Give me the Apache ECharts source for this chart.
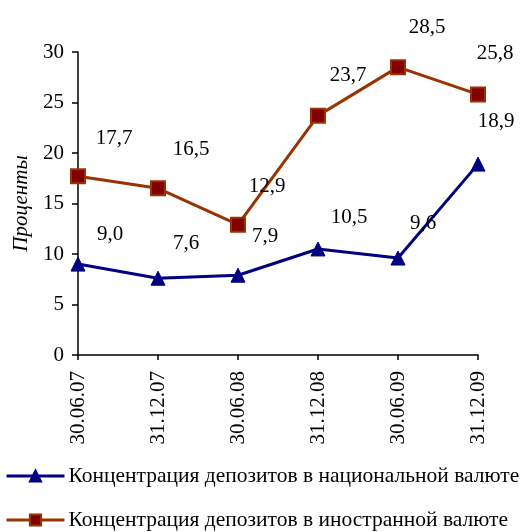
<!DOCTYPE html>
<html>
<head>
<meta charset="utf-8">
<script src="https://cdn.jsdelivr.net/npm/echarts@6/dist/echarts.min.js"></script>
<style>
  html, body { margin: 0; padding: 0; background: #fff; }
  #chart { width: 525px; height: 532px; }
</style>
</head>
<body>
<div id="chart"></div>
<script>
// Dates of the reporting periods
const periods = ['30.06.07', '31.12.07', '30.06.08', '31.12.08', '30.06.09', '31.12.09'];

// Deposit concentration, percent
const nationalCurrency = [9.0, 7.6, 7.9, 10.5, 9.6, 18.9];
const foreignCurrency = [17.7, 16.5, 12.9, 23.7, 28.5, 25.8];

const seriesNames = [
  'Концентрация депозитов в национальной валюте',
  'Концентрация депозитов в иностранной валюте'
];

// Value axis ticks
const yTicks = [0, 5, 10, 15, 20, 25, 30];

// Where each value label sits relative to its point
const nationalLabelOffsets = [[32, -30], [28, -35], [27, -39], [31, -31], [25, -35], [18, -43]];
const foreignLabelOffsets = [[36, -38], [33, -39], [29, -38], [30, -40], [29, -40], [17, -41]];

const FONT = '"Liberation Serif", "Times New Roman", serif';
const fmt = v => v.toFixed(1).replace('.', ',');

function withLabels(values, offsets) {
  return values.map((v, i) => ({
    value: v,
    label: { offset: offsets[i] }
  }));
}

// One legend block per series, stacked vertically
function legendBlock(name, top) {
  return {
    left: 0,
    top: top,
    itemWidth: 58,
    itemHeight: 14,
    itemGap: 0,
    lineStyle: { width: 3 },
    textStyle: { fontFamily: FONT, fontSize: 21.5, color: '#000', padding: [0, 0, 0, -1] },
    data: [name]
  };
}

const chart = echarts.init(document.getElementById('chart'), null, { renderer: 'canvas' });

chart.setOption({
  animation: false,
  backgroundColor: '#ffffff',
  textStyle: { fontFamily: FONT },
  grid: { left: 78, right: 47, top: 52, bottom: 177, containLabel: false },
  legend: [legendBlock(seriesNames[0], 460), legendBlock(seriesNames[1], 504)],
  xAxis: {
    type: 'category',
    data: periods,
    boundaryGap: false,
    axisLine: { lineStyle: { color: '#000', width: 1.5 } },
    axisTick: { show: true, alignWithLabel: true, inside: false, length: 5, lineStyle: { color: '#000', width: 1.5 } },
    axisLabel: {
      rotate: 90,
      color: '#000',
      fontFamily: FONT,
      fontSize: 21,
      margin: 16
    },
    splitLine: { show: false }
  },
  yAxis: {
    type: 'value',
    min: yTicks[0],
    max: yTicks[yTicks.length - 1],
    interval: yTicks[1] - yTicks[0],
    name: 'Проценты',
    nameLocation: 'middle',
    nameGap: 45,
    nameRotate: 90,
    nameTextStyle: { fontFamily: FONT, fontSize: 21, fontStyle: 'italic', color: '#000' },
    axisLine: { show: true, lineStyle: { color: '#000', width: 1.5 } },
    axisTick: { show: true, inside: false, length: 6, lineStyle: { color: '#000', width: 1.5 } },
    axisLabel: { color: '#000', fontFamily: FONT, fontSize: 21, margin: 14 },
    splitLine: { show: false }
  },
  series: [
    {
      name: seriesNames[0],
      type: 'line',
      data: withLabels(nationalCurrency, nationalLabelOffsets),
      symbol: 'triangle',
      symbolSize: 14,
      lineStyle: { color: '#000080', width: 3 },
      itemStyle: { color: '#000080', borderColor: '#000080', borderWidth: 1 },
      label: {
        show: true,
        position: 'inside',
        formatter: p => fmt(p.value),
        fontFamily: FONT,
        fontSize: 21,
        color: '#000'
      },
      z: 3
    },
    {
      name: seriesNames[1],
      type: 'line',
      data: withLabels(foreignCurrency, foreignLabelOffsets),
      symbol: 'rect',
      symbolSize: 14,
      lineStyle: { color: '#993300', width: 3 },
      itemStyle: { color: '#800000', borderColor: '#993300', borderWidth: 2 },
      label: {
        show: true,
        position: 'inside',
        formatter: p => fmt(p.value),
        fontFamily: FONT,
        fontSize: 21,
        color: '#000'
      },
      z: 2
    }
  ]
});
</script>
</body>
</html>
